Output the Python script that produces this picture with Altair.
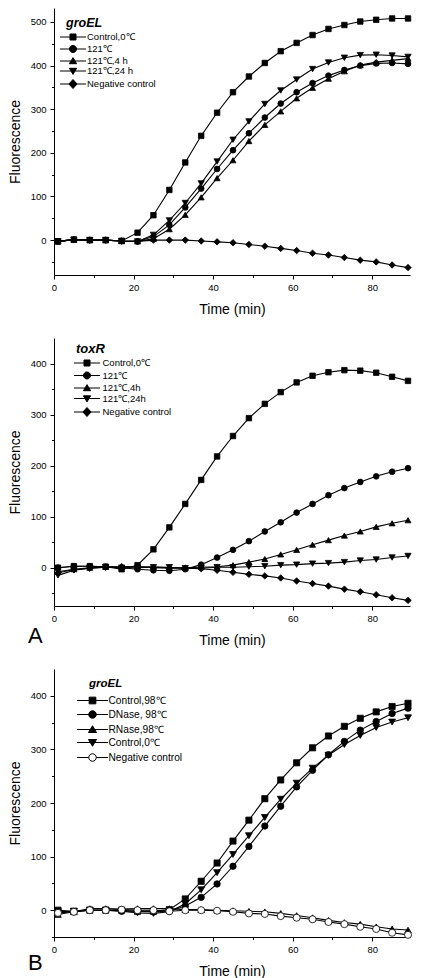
import altair as alt
import pandas as pd

FONT = "Liberation Sans"

TIME = [1, 5, 9, 13, 17, 21, 25, 29, 33, 37, 41, 45, 49, 53, 57, 61, 65, 69, 73, 77, 81, 85, 89]

# ---------------- Panel A (top): groEL ----------------
A1_TITLE = "groEL"
A1_NAMES = ["Control,0℃", "121℃", "121℃,4 h", "121℃,24 h", "Negative control"]
A1_CONTROL_0C = [-3, 1, 0, 0, -2, 17, 57, 115, 178, 239, 292, 339, 375, 406, 433, 452, 470, 484, 493, 501, 505, 508, 508]
A1_121C = [-3, 1, 0, 0, -2, -3, 8, 35, 75, 118, 163, 206, 245, 281, 313, 339, 360, 377, 390, 400, 405, 406, 404]
A1_121C_4H = [-3, 1, 0, 0, -2, -3, 3, 25, 58, 98, 142, 183, 227, 264, 295, 325, 349, 370, 387, 401, 408, 412, 416]
A1_121C_24H = [-3, 1, 0, 0, -2, -3, 12, 45, 85, 130, 180, 230, 272, 312, 343, 368, 392, 407, 418, 424, 425, 423, 420]
A1_NEG = [-3, 1, 0, 0, -2, -3, 0, 0, 0, -2, -4, -6, -10, -14, -19, -24, -30, -34, -40, -46, -50, -57, -63]

# ---------------- Panel A (middle): toxR ----------------
A2_TITLE = "toxR"
A2_NAMES = ["Control,0℃", "121℃", "121℃,4h", "121℃,24h", "Negative control"]
A2_CONTROL_0C = [0, 3, 3, 2, -3, 5, 36, 79, 125, 172, 218, 258, 293, 321, 344, 363, 376, 383, 387, 386, 382, 374, 366]
A2_121C = [0, 3, 3, 2, 0, -3, -5, -6, -3, 6, 20, 35, 52, 71, 89, 108, 125, 142, 156, 168, 179, 188, 195]
A2_121C_4H = [-8, -3, 0, 2, 2, 2, 2, 0, 0, 1, 2, 5, 11, 17, 26, 35, 45, 54, 63, 71, 80, 87, 93]
A2_121C_24H = [-15, -5, -1, 1, 0, 0, 1, 1, -1, -1, 1, 1, 2, 3, 5, 6, 8, 9, 11, 14, 16, 20, 23]
A2_NEG = [-10, -4, -1, 1, 2, 2, 0, -1, -1, -2, -5, -9, -13, -16, -20, -26, -31, -36, -42, -47, -53, -59, -64]

# ---------------- Panel B (bottom): groEL ----------------
B_TITLE = "groEL"
B_NAMES = ["Control,98℃", "DNase, 98℃", "RNase,98℃", "Control,0℃", "Negative control"]
B_CONTROL_98C = [0, -2, 0, 0, 0, -2, -2, 1, 21, 54, 88, 129, 168, 208, 243, 275, 303, 325, 343, 358, 370, 380, 386]
B_DNASE = [-3, -3, 0, 0, -2, -2, -3, -2, 8, 24, 49, 82, 119, 157, 194, 230, 261, 290, 315, 336, 352, 367, 377]
B_RNASE = [-8, -3, 3, 3, 2, 3, 3, 3, 1, 1, 0, -1, -2, -3, -6, -10, -14, -19, -23, -26, -31, -35, -37]
B_CONTROL_0C = [-3, -2, 0, 0, -2, -5, -6, -3, 12, 38, 70, 104, 139, 173, 207, 237, 265, 289, 309, 326, 341, 351, 359]
B_NEG = [-5, -3, 0, 0, 1, 0, 0, -2, 0, 0, -1, -3, -6, -7, -11, -14, -17, -22, -26, -31, -35, -42, -46]

PANEL_LABELS = ["A", "B"]
X_TITLE = "Time (min)"
Y_TITLE = "Fluorescence"


def long_df(names, series):
    rows = []
    for name, vals in zip(names, series):
        for t, v in zip(TIME, vals):
            rows.append({"t": t, "value": v, "series": name})
    return pd.DataFrame(rows)


def tick_axis(values, major, title, **kw):
    return alt.Axis(
        values=values,
        title=title,
        labelExpr=f"datum.value % {major} === 0 ? datum.label : ''",
        tickSize={"condition": {"test": f"datum.value % {major} === 0", "value": 4}, "value": 2.5},
        **kw,
    )


def text_layer(txt, x, y, size, **kw):
    return alt.Chart(pd.DataFrame({"label": [txt]})).mark_text(
        font=FONT, fontSize=size, align="left", baseline="alphabetic", color="black", **kw
    ).encode(x=alt.value(x), y=alt.value(y), text="label:N")


def panel(df, title, names, shapes, fills, sizes, lg, width, height, ydom, yvals,
          label=None, label_y=0):
    xaxis = tick_axis([0, 10, 20, 30, 40, 50, 60, 70, 80], 20, X_TITLE,
                      labelPadding=3, titlePadding=11, labelFlush=False)
    yaxis = tick_axis(yvals, 100, Y_TITLE, labelPadding=4, titlePadding=8, minExtent=0)
    x = alt.X("t:Q", scale=alt.Scale(domain=[0, 89.5], nice=False, zero=False), axis=xaxis)
    y = alt.Y("value:Q", scale=alt.Scale(domain=ydom, nice=False, zero=False), axis=yaxis)
    base = alt.Chart(df)
    lines = base.mark_line(color="black", strokeWidth=1.1).encode(x=x, y=y, detail="series:N")
    points = base.mark_point(filled=True, opacity=1, stroke="black", strokeWidth=0.8).encode(
        x=x, y=y,
        shape=alt.Shape("series:N", scale=alt.Scale(domain=names, range=shapes), legend=None),
        fill=alt.Fill("series:N", scale=alt.Scale(domain=names, range=fills), legend=None),
        size=alt.Size("series:N", scale=alt.Scale(domain=names, range=sizes), legend=None),
    )
    leg = alt.Legend(
        title=None, orient="none", legendX=lg["x"], legendY=lg["y"], padding=0,
        labelFont=FONT, labelFontSize=lg["fs"], labelColor="black", labelOffset=lg["loff"],
        symbolSize=lg["size"], symbolStrokeWidth=1,
        symbolOffset=lg["soff"], rowPadding=lg["rpad"],
    )
    legend_layer = base.transform_filter("datum.t < 0").mark_point(
        filled=True, opacity=1, strokeWidth=1, size=lg["size"]
    ).encode(
        shape=alt.Shape("series:N", scale=alt.Scale(domain=names, range=lg["paths"]), legend=leg),
        fill=alt.Fill("series:N", scale=alt.Scale(domain=names, range=fills), legend=leg),
        stroke=alt.Stroke("series:N", scale=alt.Scale(domain=names, range=["black"] * len(names)),
                          legend=leg),
    )
    gene = text_layer(title, lg["tx"], lg["ty"], lg["tfs"], fontStyle="italic", fontWeight="bold")
    layers = [lines, points, legend_layer, gene]
    if label is not None:
        layers.append(text_layer(label, -26, label_y, 22))
    return alt.layer(*layers).resolve_scale(shape="independent", fill="independent",
                                            stroke="independent",
                                            size="independent").properties(width=width, height=height)


# legend symbol paths (line + marker), unit = sqrt(symbolSize)/2
P_SQ = "M-2.9,0H2.9M-0.67,-0.67H0.67V0.67H-0.67Z"
P_CI = "M-2.9,0H2.9M0.78,0A0.78,0.78 0 1,1 -0.78,0A0.78,0.78 0 1,1 0.78,0Z"
P_TU = "M-2.9,0H2.9M0,-0.75L0.8,0.6L-0.8,0.6Z"
P_TD = "M-2.9,0H2.9M0,0.75L0.8,-0.6L-0.8,-0.6Z"
P_DI = "M-2.9,0H2.9M0,-1L0.9,0L0,1L-0.9,0Z"
P_OC = "M-3.1,0H-0.75M0.75,0H3.1M0.75,0A0.75,0.75 0 1,1 -0.75,0A0.75,0.75 0 1,1 0.75,0Z"
Q_SQ = "M-3.1,0H3.1M-0.67,-0.67H0.67V0.67H-0.67Z"
Q_CI = "M-3.1,0H3.1M0.75,0A0.75,0.75 0 1,1 -0.75,0A0.75,0.75 0 1,1 0.75,0Z"
Q_TU = "M-3.1,0H3.1M0,-0.75L0.8,0.6L-0.8,0.6Z"
Q_TD = "M-3.1,0H3.1M0,0.75L0.8,-0.6L-0.8,-0.6Z"

SH5 = ["square", "circle", "triangle-up", "triangle-down", "diamond"]
SHB = ["square", "circle", "triangle-up", "triangle-down", "circle"]
FILL_A = ["black"] * 5
FILL_B = ["black", "black", "black", "black", "white"]

df1 = long_df(A1_NAMES, [A1_CONTROL_0C, A1_121C, A1_121C_4H, A1_121C_24H, A1_NEG])
df2 = long_df(A2_NAMES, [A2_CONTROL_0C, A2_121C, A2_121C_4H, A2_121C_24H, A2_NEG])
df3 = long_df(B_NAMES, [B_CONTROL_98C, B_DNASE, B_RNASE, B_CONTROL_0C, B_NEG])

p1 = panel(df1, A1_TITLE, A1_NAMES, SH5, FILL_A, [30, 42, 45, 45, 64],
           dict(x=9, y=24, fs=9.5, loff=9, size=81, soff=5, rpad=0,
                tx=12, ty=19, tfs=12.5,
                paths=[P_SQ, P_CI, P_TU, P_TD, P_DI]),
           356, 267, [-80, 532], [-50, 0, 50, 100, 150, 200, 250, 300, 350, 400, 450, 500])
p2 = panel(df2, A2_TITLE, A2_NAMES, SH5, FILL_A, [30, 42, 45, 45, 64],
           dict(x=23, y=20, fs=9.5, loff=10.5, size=81, soff=5, rpad=0.5,
                tx=22, ty=15, tfs=13,
                paths=[P_SQ, P_CI, P_TU, P_TD, P_DI]),
           356, 268, [-75, 450], [-50, 0, 50, 100, 150, 200, 250, 300, 350, 400],
           label=PANEL_LABELS[0], label_y=305)
p3 = panel(df3, B_TITLE, B_NAMES, SHB, FILL_B, [38, 50, 50, 50, 45],
           dict(x=28, y=26, fs=10.2, loff=10.5, size=100, soff=5, rpad=2,
                tx=35, ty=18, tfs=11.5,
                paths=[Q_SQ, Q_CI, Q_TU, Q_TD, P_OC]),
           356, 268, [-50, 450], [-50, 0, 50, 100, 150, 200, 250, 300, 350, 400],
           label=PANEL_LABELS[1], label_y=301)

chart = alt.vconcat(p1, p2, p3, spacing=21).resolve_scale(
    x="independent", y="independent", shape="independent", fill="independent",
    stroke="independent", size="independent"
).properties(
    padding={"left": 0, "top": 0, "right": 0, "bottom": 0}, background="white"
).configure_view(strokeWidth=0).configure_axis(
    grid=False, domainColor="black", domainWidth=1, tickColor="black", tickWidth=1,
    labelColor="black", titleColor="black", labelFont=FONT, titleFont=FONT,
    labelFontSize=9.5, titleFontSize=14, titleFontWeight="normal"
)

chart.save("out.html", embed_options={"renderer": "svg", "actions": False})
